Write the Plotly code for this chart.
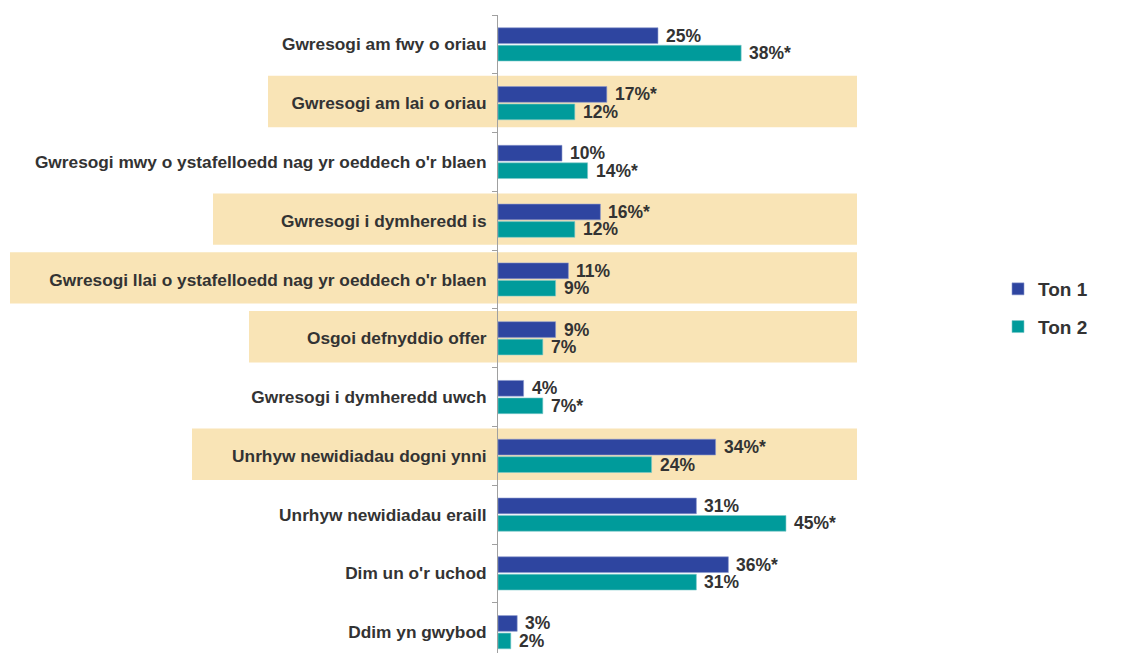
import plotly.graph_objects as go

categories = [
    "Gwresogi am fwy o oriau",
    "Gwresogi am lai o oriau",
    "Gwresogi mwy o ystafelloedd nag yr oeddech o'r blaen",
    "Gwresogi i dymheredd is",
    "Gwresogi llai o ystafelloedd nag yr oeddech o'r blaen",
    "Osgoi defnyddio offer",
    "Gwresogi i dymheredd uwch",
    "Unrhyw newidiadau dogni ynni",
    "Unrhyw newidiadau eraill",
    "Dim un o'r uchod",
    "Ddim yn gwybod",
]
ton1 = [25, 17, 10, 16, 11, 9, 4, 34, 31, 36, 3]
ton2 = [38, 12, 14, 12, 9, 7, 7, 24, 45, 31, 2]
ton1_sig = [False, True, False, True, False, False, False, True, False, True, False]
ton2_sig = [True, False, True, False, False, False, True, False, True, False, False]
highlighted = [1, 3, 4, 5, 7]
highlight_left_px = {1: 268, 3: 213, 4: 10, 5: 249, 7: 192}

BLUE = "#2E45A0"
TEAL = "#009B9B"
BEIGE = "#F9E4B6"
TXT = "#333333"
FONT = "Liberation Sans, Arial, sans-serif"

# page body has an 8px default margin; figure sized to fit the window
OFF = 8
W, H = 1136 - OFF, 653 - OFF
ML, MR, MT, MB = 498 - OFF, 279, 15 - OFF, 0
XMAX = 56.1
YR = [10.354, -0.5]

fig = go.Figure()
fig.add_trace(go.Bar(y=categories, x=ton1, orientation="h", name="Ton 1",
                     marker=dict(color=BLUE, line=dict(color="#8C98CC", width=0.6)),
                     legendgroup="a", hoverinfo="x+y"))
fig.add_trace(go.Bar(y=categories, x=ton2, orientation="h", name="Ton 2",
                     marker=dict(color=TEAL, line=dict(color="#7FCACA", width=0.6)),
                     legendgroup="b", hoverinfo="x+y"))

# value labels
slot_px = (H - MT - MB) / (YR[0] - YR[1]) * (1 - 0.405) / 2
for i, c in enumerate(categories):
    for vals, sig, sh in ((ton1, ton1_sig, slot_px / 2), (ton2, ton2_sig, -slot_px / 2)):
        fig.add_annotation(x=vals[i], y=c, xref="x", yref="y",
                           text=f"{vals[i]}%" + ("*" if sig[i] else ""),
                           showarrow=False, xanchor="left", yanchor="middle",
                           xshift=6, yshift=sh,
                           font=dict(family=FONT, size=17.5, color=TXT, weight="bold"))

# highlight bands
plot_w = W - ML - MR
def ypaper(v):
    return (YR[0] - v) / (YR[0] - YR[1])
for i in highlighted:
    x0 = (highlight_left_px[i] - OFF - ML) / plot_w
    fig.add_shape(type="rect", xref="paper", yref="paper",
                  x0=x0, x1=1.0, y0=ypaper(i + 0.41), y1=ypaper(i - 0.465),
                  fillcolor=BEIGE, line=dict(width=0), layer="below")

fig.update_layout(
    width=W, height=H,
    margin=dict(l=ML, r=MR, t=MT, b=MB, pad=0, autoexpand=False),
    barmode="group", bargap=0.405, bargroupgap=0.1,
    plot_bgcolor="rgba(0,0,0,0)", paper_bgcolor="white",
    font=dict(family=FONT, color=TXT),
    showlegend=True,
    legend=dict(xref="container", yref="container", x=990 / W, y=1 - 262 / H,
                xanchor="left", yanchor="top", traceorder="grouped",
                tracegroupgap=10, bgcolor="rgba(0,0,0,0)",
                font=dict(family=FONT, size=19, color=TXT, weight="bold")),
    xaxis=dict(range=[0, XMAX], visible=False, fixedrange=True, automargin=False),
    yaxis=dict(type="category", range=YR, tickson="boundaries", ticks="outside",
               ticklen=5, tickcolor="#A0A0A0", showline=True, linecolor="#A0A0A0",
               linewidth=1, showgrid=False, ticklabelstandoff=7, automargin=False,
               tickfont=dict(family=FONT, size=17.3, color=TXT, weight="bold")),
)

fig.write_html("out.html")
